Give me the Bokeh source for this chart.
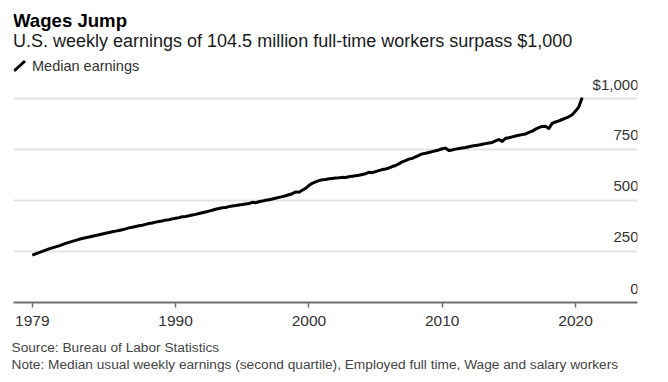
from bokeh.plotting import figure
from bokeh.models import FixedTicker, Label, Arrow, Range1d, Title
from bokeh.core.properties import value
from bokeh.embed import file_html
from bokeh.resources import INLINE

# ---- data (quarterly median usual weekly earnings, USD) ----
years = list(range(1979, 2021))
median_earnings = [
    [232, 238, 244, 250],   # 1979
    [256, 262, 267, 272],   # 1980
    [277, 283, 289, 294],   # 1981
    [299, 304, 309, 313],   # 1982
    [317, 320, 324, 328],   # 1983
    [331, 335, 339, 342],   # 1984
    [346, 349, 352, 356],   # 1985
    [360, 365, 368, 372],   # 1986
    [375, 378, 382, 386],   # 1987
    [389, 393, 396, 399],   # 1988
    [403, 405, 409, 412],   # 1989
    [415, 419, 421, 424],   # 1990
    [428, 431, 435, 439],   # 1991
    [443, 447, 451, 456],   # 1992
    [460, 463, 465, 469],   # 1993
    [472, 474, 477, 479],   # 1994
    [482, 484, 490, 488],   # 1995
    [493, 496, 500, 503],   # 1996
    [506, 510, 514, 518],   # 1997
    [522, 527, 532, 541],   # 1998
    [539, 549, 558, 572],   # 1999
    [583, 590, 596, 600],   # 2000
    [602, 605, 607, 609],   # 2001
    [610, 612, 611, 615],   # 2002
    [618, 620, 622, 626],   # 2003
    [630, 637, 635, 640],   # 2004
    [645, 650, 653, 658],   # 2005
    [665, 670, 678, 688],   # 2006
    [694, 701, 705, 712],   # 2007
    [720, 727, 730, 734],   # 2008
    [738, 742, 746, 752],   # 2009
    [755, 743, 746, 750],   # 2010
    [753, 756, 758, 762],   # 2011
    [765, 768, 770, 774],   # 2012
    [777, 780, 783, 790],   # 2013
    [797, 788, 803, 806],   # 2014
    [810, 814, 818, 821],   # 2015
    [824, 832, 838, 848],   # 2016
    [855, 861, 862, 851],   # 2017
    [876, 883, 888, 895],   # 2018
    [902, 908, 918, 936],   # 2019
    [957, 1002],            # 2020
]

x_tick_labels = ["1979", "1990", "2000", "2010", "2020"]
y_ticks = [0, 250, 500, 750, 1000]
y_tick_labels = ["0", "250", "500", "750", "$1,000"]

title_text = "Wages Jump"
subtitle_text = "U.S. weekly earnings of 104.5 million full-time workers surpass $1,000"
legend_text = "Median earnings"
source_text = "Source: Bureau of Labor Statistics"
note_text = ("Note: Median usual weekly earnings (second quartile), "
             "Employed full time, Wage and salary workers")

# quarter-end positions
xs, ys = [], []
for yr, quarters in zip(years, median_earnings):
    for qi, v in enumerate(quarters):
        xs.append(yr + (qi + 1) / 4)
        ys.append(v)

X0, X1 = 1977.84, 2024.65
Y0, Y1 = 0, 1477

FONT = "Liberation Sans"

p = figure(width=668, height=382, output_backend="svg", toolbar_location=None,
           x_range=Range1d(X0, X1), y_range=Range1d(Y0, Y1),
           min_border_left=13, min_border_right=31, min_border_top=0,
           min_border_bottom=80, y_axis_location=None)
p.outline_line_color = None
p.background_fill_color = "white"
p.border_fill_color = "white"

p.xgrid.visible = False
p.ygrid.ticker = FixedTicker(ticks=y_ticks[1:])
p.ygrid.grid_line_color = "#e3e3e3"
p.ygrid.grid_line_width = 2

x_ticks = [xs[0]] + [int(t) for t in x_tick_labels[1:]]
ax = p.xaxis[0]
ax.ticker = FixedTicker(ticks=x_ticks)
ax.major_label_overrides = {t: lab for t, lab in zip(x_ticks, x_tick_labels)}
ax.axis_line_color = "#6f6f6f"
ax.axis_line_width = 2
ax.major_tick_line_color = "#6f6f6f"
ax.major_tick_line_width = 1.5
ax.major_tick_out = 5
ax.major_tick_in = 0
ax.minor_tick_line_color = None
ax.major_label_standoff = 8
ax.major_label_text_font = FONT
ax.major_label_text_font_size = "15.5px"
ax.major_label_text_color = "#333333"
# small blank spacer below the tick labels
ax.axis_label = " "
ax.axis_label_text_font_size = "1px"
ax.axis_label_standoff = 5

p.line(xs, ys, line_color="black", line_width=3, line_join="round")

p.text(x=[X1] * len(y_ticks), y=y_ticks, text=y_tick_labels,
       text_align="right", text_baseline="middle", x_offset=1, y_offset=-14,
       text_font=value(FONT), text_font_size="15px", text_color="#333333")

def add_label(txt, x, y, size, color, bold=False):
    p.add_layout(Label(x=x, y=y, x_units="screen", y_units="screen", text=txt,
                       text_font=FONT, text_font_size=size, text_color=color,
                       text_font_style="bold" if bold else "normal",
                       text_baseline="middle", text_align="left"))

add_label(title_text, -0.5, 282.4, "18.6px", "#000000", bold=True)
add_label(subtitle_text, -0.5, 262.0, "18px", "#1a1a1a")
add_label(legend_text, 18.5, 236.6, "14.5px", "#333333")

p.add_layout(Arrow(x_start=0.5, y_start=231.5, x_end=11.5, y_end=241.5,
                   start_units="screen", end_units="screen", end=None,
                   line_width=3, line_color="black"))

for txt in (source_text, note_text):
    p.add_layout(Title(text=txt, align="left", text_font=FONT,
                       text_font_size="13.7px", text_font_style="normal",
                       text_color="#444444", standoff=0, offset=-2), "below")

open("out.html", "w").write(file_html(p, INLINE))
